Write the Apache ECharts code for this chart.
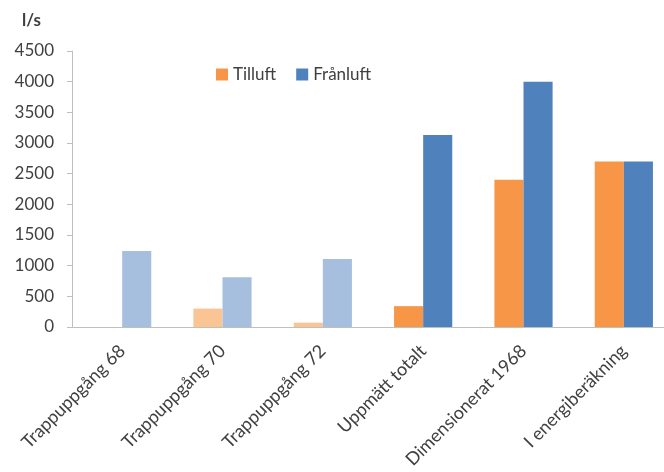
<!DOCTYPE html>
<html>
<head>
<meta charset="utf-8">
<script src="https://cdn.jsdelivr.net/npm/echarts@6/dist/echarts.min.js"></script>
<style>
  html, body { margin: 0; padding: 0; background: #fff; overflow: hidden; }
  /* the plot runs a little past the right edge of the window */
  #chart { width: 674px; height: 472px; }
</style>
</head>
<body>
<div id="chart"></div>
<script>
// Air flow per stairwell and totals (l/s)
const categories = ['Trappuppgång 68', 'Trappuppgång 70', 'Trappuppgång 72', 'Uppmätt totalt', 'Dimensionerat 1968', 'I energiberäkning'];
const tilluft = [0, 300, 70, 340, 2400, 2700];
const franluft = [1240, 810, 1110, 3130, 4000, 2700];
const yTicks = { min: 0, max: 4500, step: 500 };
// the first stairwells are individual measurements, drawn in lighter tints
const individualCount = 3;

const orange = '#F79646', orangeLight = '#FAC495';
const blue = '#4F81BD', blueLight = '#A7BFDE';
const textColor = '#404040';
const axisColor = '#BFBFBF';
const font = 'Lato, "Open Sans", sans-serif';

function tinted(values, full, light) {
  return values.map((v, i) => ({
    value: v,
    itemStyle: { color: i < individualCount ? light : full }
  }));
}

const chart = echarts.init(document.getElementById('chart'), null, { renderer: 'canvas' });
chart.setOption({
  animation: false,
  backgroundColor: '#fff',
  textStyle: { fontFamily: font, color: textColor },
  graphic: [{
    type: 'text', left: 22, top: 12,
    style: { text: 'l/s', font: 'bold 17px ' + font, fill: textColor }
  }],
  legend: {
    left: 211, top: 61,
    icon: 'rect', itemWidth: 12, itemHeight: 12, itemGap: 20,
    textStyle: { fontSize: 17, color: textColor, fontFamily: font },
    data: ['Tilluft', 'Frånluft']
  },
  grid: { left: 72, top: 51, bottom: 145, right: 0, containLabel: false },
  xAxis: {
    type: 'category',
    data: categories,
    axisLine: { lineStyle: { color: axisColor } },
    axisTick: { length: 5, lineStyle: { color: axisColor } },
    axisLabel: { rotate: 45, margin: 21, fontSize: 18, color: textColor, fontFamily: font, interval: 0 }
  },
  yAxis: {
    type: 'value',
    min: yTicks.min, max: yTicks.max, interval: yTicks.step,
    splitLine: { show: false },
    axisLine: { show: true, lineStyle: { color: axisColor } },
    axisTick: { show: true, length: 5, lineStyle: { color: axisColor } },
    axisLabel: { margin: 18, fontSize: 17, color: textColor, fontFamily: font, formatter: v => String(v) }
  },
  series: [
    {
      name: 'Tilluft', type: 'bar', color: orange,
      barGap: '0%', barCategoryGap: '42%',
      data: tinted(tilluft, orange, orangeLight)
    },
    {
      name: 'Frånluft', type: 'bar', color: blue,
      barGap: '0%', barCategoryGap: '42%',
      data: tinted(franluft, blue, blueLight)
    }
  ]
});
</script>
</body>
</html>
